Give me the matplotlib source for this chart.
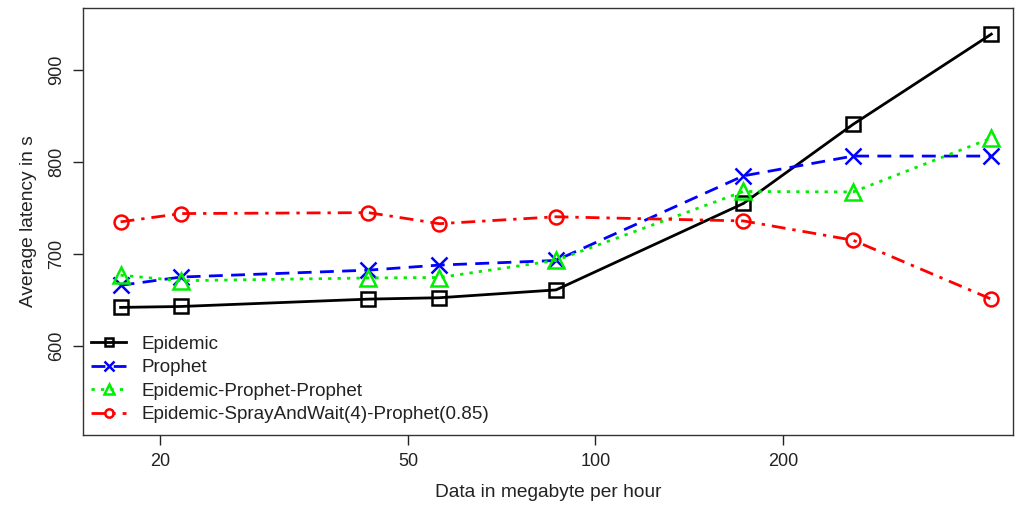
import matplotlib
matplotlib.use("Agg")
import matplotlib.pyplot as plt

plt.rcParams["font.family"] = ["Liberation Sans", "DejaVu Sans"]

# data rate in MB per hour (log axis)
data_rate = [17.28, 21.6, 43.2, 56.16, 86.4, 172.8, 259.2, 432.0]

epidemic = [642, 643, 651, 652.5, 661, 755, 841, 939]
prophet = [666, 675, 682.5, 688, 693, 785, 806.5, 806.5]
epp = [677, 671, 674, 674.5, 693, 768, 767.5, 826]
eswp = [735, 744, 745, 733, 740.5, 736, 715, 651]

series = [
    ("Epidemic", epidemic, "black", "-", "s", 10),
    ("Prophet", prophet, "#0000FF", (0, (5, 3)), "x", 11),
    ("Epidemic-Prophet-Prophet", epp, "#00EE00", (0, (1.2, 2.2)), "^", 11),
    ("Epidemic-SprayAndWait(4)-Prophet(0.85)", eswp, "#FF0000", (0, (5, 2.5, 1.2, 2.5)), "o", 10),
]

x_ticks = [20, 50, 100, 200]
y_ticks = [600, 700, 800, 900]

fig = plt.figure(figsize=(10.15, 5.05), dpi=100)
ax = fig.add_axes([0.0818, 0.1386, 0.9162, 0.8455])

for label, vals, color, ls, marker, ms in series:
    ax.plot(data_rate, vals, color=color, linestyle=ls, linewidth=2,
            marker=marker, markersize=ms, markerfacecolor="none",
            markeredgewidth=1.8, markeredgecolor=color, label=label)

ax.set_xscale("log")
ax.set_xlim(15.04, 468)
ax.set_ylim(503.3, 967.4)
ax.set_xticks(x_ticks)
ax.set_xticklabels([str(t) for t in x_ticks])
ax.minorticks_off()
ax.set_yticks(y_ticks)
ax.set_yticklabels([str(t) for t in y_ticks], rotation=90, va="center")
ax.tick_params(labelsize=13, length=7, width=1, pad=6, colors="#222222")

for sp in ax.spines.values():
    sp.set_color("#333333")
    sp.set_linewidth(1)

ax.set_xlabel("Data in megabyte per hour", fontsize=13.8, labelpad=10, color="#222222")
ax.set_ylabel("Average latency in s", fontsize=13.8, labelpad=8, color="#222222")

leg = ax.legend(loc="lower left", bbox_to_anchor=(0.0, 0.01), frameon=False,
                fontsize=13.6, markerscale=0.6, handlelength=1.9,
                labelspacing=0.33, handletextpad=0.8, borderaxespad=0.2,
                borderpad=0.2)
for t in leg.get_texts():
    t.set_color("#222222")

fig.savefig("out.png", dpi=100)
